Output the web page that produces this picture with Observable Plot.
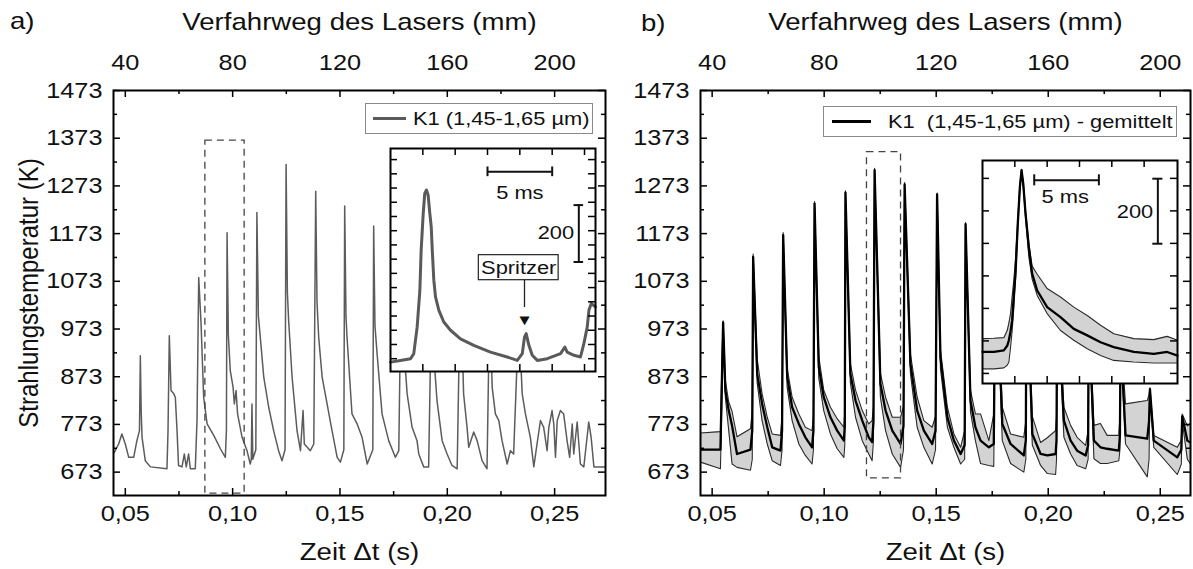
<!DOCTYPE html>
<html><head><meta charset="utf-8">
<script src="https://cdn.jsdelivr.net/npm/d3@7"></script>
<script src="https://cdn.jsdelivr.net/npm/@observablehq/plot@0.6"></script>
<style>
body{margin:0;background:#fff;}
#root{position:relative;width:1193px;height:569px;overflow:hidden;font-family:"Liberation Sans",Arial,Helvetica,sans-serif;color:#111;}
.leg{position:absolute;background:#fff;border:1px solid #8a8a8a;box-sizing:border-box;}
.st{position:absolute;display:inline-block;transform:scaleX(1.15);transform-origin:left center;white-space:pre;line-height:1;}
</style></head><body><div id="root"></div>
<script>
// ---------- tick values & labels ----------
const xMajor = [0.05, 0.10, 0.15, 0.20, 0.25];
const xMinor = [0.075, 0.125, 0.175, 0.225];
const bottomTickLabels = ["0,05", "0,10", "0,15", "0,20", "0,25"];
const topTickLabels = ["40", "80", "120", "160", "200"];
const yMajor = [673, 773, 873, 973, 1073, 1173, 1273, 1373, 1473];
const yMinor = [723, 823, 923, 1023, 1123, 1223, 1323, 1423];
const xTitleBottom = "Zeit \u0394t (s)";
const xTitleTop = "Verfahrweg des Lasers (mm)";
const yTitle = "Strahlungstemperatur (K)";
const legendA = "K1 (1,45-1,65 \u00b5m)";
const legendB = "K1  (1,45-1,65 \u00b5m) - gemittelt";

// ---------- panel a: raw signal (time s, temperature K) ----------
const aTime = [0.0445,0.0453,0.0469,0.0484,0.0500,0.0516,0.0539,0.0554,0.0566,0.0570,0.0574,0.0578,0.0593,0.0617,0.0694,0.0699,0.0705,0.0713,0.0725,0.0733,0.0741,0.0748,0.0764,0.0775,0.0784,0.0795,0.0803,0.0826,0.0834,0.0842,0.0853,0.0865,0.0881,0.0912,0.0943,0.0966,0.0971,0.0974,0.0980,0.0989,0.1002,0.1008,0.1016,0.1023,0.1044,0.1067,0.1082,0.1087,0.1090,0.1094,0.1108,0.1113,0.1120,0.1129,0.1145,0.1168,0.1191,0.1214,0.1230,0.1244,0.1249,0.1255,0.1261,0.1277,0.1300,0.1316,0.1328,0.1334,0.1362,0.1378,0.1387,0.1393,0.1401,0.1417,0.1440,0.1463,0.1487,0.1502,0.1518,0.1522,0.1528,0.1533,0.1556,0.1580,0.1603,0.1627,0.1653,0.1657,0.1663,0.1673,0.1696,0.1727,0.1758,0.1774,0.1786,0.1795,0.1813,0.1836,0.1859,0.1867,0.1890,0.1913,0.1929,0.1940,0.1952,0.1976,0.1999,0.2022,0.2046,0.2061,0.2076,0.2092,0.2100,0.2123,0.2139,0.2162,0.2185,0.2198,0.2209,0.2224,0.2240,0.2255,0.2279,0.2294,0.2309,0.2333,0.2349,0.2364,0.2387,0.2403,0.2418,0.2434,0.2449,0.2465,0.2473,0.2488,0.2496,0.2504,0.2512,0.2527,0.2542,0.2558,0.2570,0.2582,0.2589,0.2605,0.2620,0.2636,0.2659,0.2670,0.2683,0.2699,0.2733];
const aTemp = [712,718,732,753,732,704,704,739,760,917,800,746,697,684,680,760,959,844,838,830,760,687,684,711,684,711,680,680,781,1081,983,830,774,750,722,704,760,1175,960,886,851,816,844,795,746,718,690,700,816,700,720,1217,1000,955,872,809,760,718,697,720,1318,1050,990,872,760,718,802,732,718,732,1262,1030,955,872,816,760,704,694,720,1231,1000,955,795,774,746,690,720,1189,980,921,795,739,704,718,1120,950,837,767,739,711,684,684,1100,900,823,739,711,687,680,1080,837,767,725,757,739,697,680,1050,851,795,781,739,690,718,711,1000,837,795,746,684,732,781,767,718,767,802,774,704,781,802,795,739,704,774,711,778,690,684,778,746,684,684,684];
const zoomBoxA = {t1: 0.0873, t2: 0.1056, T1: 628, T2: 1368};

// ---------- panel b: averaged signal with band ----------
const bTime = [0.0448,0.0537,0.0545,0.0549,0.0559,0.0574,0.0589,0.0611,0.0671,0.0679,0.0683,0.0701,0.0723,0.0746,0.0768,0.0805,0.0812,0.0817,0.0835,0.0857,0.0887,0.0916,0.0946,0.0952,0.0957,0.0976,0.0998,0.1028,0.1058,0.1088,0.1092,0.1095,0.1117,0.1140,0.1170,0.1199,0.1214,0.1220,0.1225,0.1251,0.1274,0.1304,0.1341,0.1354,0.1359,0.1385,0.1415,0.1445,0.1482,0.1497,0.1504,0.1519,0.1550,0.1579,0.1609,0.1627,0.1631,0.1653,0.1675,0.1698,0.1735,0.1757,0.1765,0.1795,0.1832,0.1891,0.1900,0.1903,0.1929,0.1966,0.1996,0.2033,0.2037,0.2040,0.2070,0.2100,0.2129,0.2167,0.2178,0.2181,0.2204,0.2233,0.2263,0.2315,0.2320,0.2323,0.2345,0.2442,0.2450,0.2454,0.2471,0.2576,0.2594,0.2598,0.2621,0.2635];
const bLow = [694,680,850,980,830,760,690,683,677,700,1115,860,781,732,697,687,720,1160,850,781,732,708,690,720,1228,870,802,753,722,704,730,1250,860,788,739,711,697,740,1298,830,760,711,683,720,1268,880,767,725,690,720,1248,890,767,725,690,700,1186,800,739,691,687,685,1140,739,691,673,700,1100,730,687,670,668,700,1050,746,711,687,680,700,1000,701,691,691,697,720,950,732,663,700,840,725,668,690,780,700,690];
const bMean = [720,720,900,987,844,802,770,711,720,760,1124,879,816,767,725,718,760,1170,872,809,774,746,725,760,1236,893,830,788,760,739,770,1259,879,823,781,746,736,780,1306,858,802,760,732,770,1276,900,802,760,732,760,1255,913,788,739,711,730,1193,823,767,739,725,732,1150,774,732,708,740,1110,753,711,708,711,740,1060,781,739,718,708,730,1010,739,725,722,718,750,960,750,743,780,847,739,704,720,790,739,735];
const bHigh = [755,758,930,990,865,820,800,747,764,800,1130,910,837,788,753,750,790,1175,890,830,795,767,760,790,1240,915,845,809,785,767,800,1263,900,845,802,774,781,810,1310,880,830,788,788,810,1280,920,830,781,767,790,1258,930,809,753,725,760,1196,845,795,795,739,795,1155,809,753,746,780,1115,790,735,745,760,790,1065,809,771,746,729,760,1015,771,775,750,750,790,965,816,823,835,850,750,725,740,795,770,775];
const zoomBoxB = {t1: 0.1191, t2: 0.1343, T1: 660, T2: 1344};

// ---------- inset a (ms, K) ----------
const insetATime = [0,0.77,1.55,1.80,2.06,2.27,2.37,2.53,2.65,2.78,2.91,3.04,3.15,3.23,3.35,3.48,3.74,4.12,4.64,5.41,6.44,7.73,9.02,9.80,10.19,10.36,10.49,10.70,10.96,11.35,12.12,13.15,13.48,13.66,14.18,14.69,14.95,15.21,15.34,15.52,15.85];
const insetATemp = [688,694,700,718,811,940,1081,1211,1281,1293,1275,1211,1163,1081,976,917,870,829,800,770,747,723,706,694,718,776,788,747,712,694,700,718,741,723,712,706,753,811,870,894,882];
const insetAXTicks = [2.5, 5, 7.5, 10, 12.5, 15];
const insetAYTicks = [700,750,800,850,900,950,1000,1050,1100,1150,1200,1250,1300,1350,1400];
const barAms = {t1: 7.5, t2: 12.5, T: 1357, cap: 17, label: "5 ms", lt: 10, lT: 1282};
const barAK = {t: 14.56, T1: 1040, T2: 1240, cap: 0.37, label: "200", lt: 14.2, lT: 1141};
const spritzer = {t1: 6.83, t2: 13.0, T1: 976, T2: 1064, label: "Spritzer", lt: 9.92, lT: 1020, at: 10.36, aT2: 880, tipT: 829};

// ---------- inset b (ms, K) ----------
const insetBTime = [0,0.88,1.65,1.91,2.04,2.17,2.29,2.42,2.55,2.73,2.89,3.02,3.15,3.33,3.58,3.84,4.23,5.0,6.03,7.06,8.10,9.13,10.15,11.70,13.25,14.28,15.08];
const insetBLow = [714,714,717,725,735,781,830,900,986,1150,1265,1320,1275,1180,1060,990,940,884,832,802,776,755,740,735,732,732,732];
const insetBMean = [766,766,771,785,802,830,863,940,1007,1161,1273,1325,1284,1191,1089,1007,955,904,873,837,817,796,781,766,760,766,755];
const insetBHigh = [807,808,810,832,855,884,935,986,1050,1175,1280,1328,1290,1200,1100,1030,1005,961,935,904,878,848,822,807,804,814,802];
const insetBXTicks = [2.5, 5, 7.5, 10, 12.5];
const insetBYTicks = [700, 800, 900, 1000, 1100, 1200, 1300];
const barBms = {t1: 4.0, t2: 9.0, T: 1294, cap: 17, label: "5 ms", lt: 6.4, lT: 1242};
const barBK = {t: 13.56, T1: 1099, T2: 1299, cap: 0.39, label: "200", lt: 13.2, lT: 1198};

// ---------- build ----------
const FONT = '"Liberation Sans", Arial, Helvetica, sans-serif';
const SX = 1.15;
const root = document.getElementById("root");
const aRows = aTime.slice(0, Math.min(aTime.length, aTemp.length)).map((t, i) => ({t, T: aTemp[i]}));
const bRows = bTime.map((t, i) => ({t, lo: bLow[i], m: bMean[i], hi: bHigh[i]}));
const iaRows = insetATime.map((t, i) => ({t, T: insetATemp[i]}));
const ibRows = insetBTime.map((t, i) => ({t, lo: insetBLow[i], m: insetBMean[i], hi: insetBHigh[i]}));

function frameTicks(xMaj, xMin, yMaj, yMin, iw, ih, L, l, sw) {
  const st = {stroke: "#000", strokeWidth: sw};
  const m = [];
  if (xMaj.length) m.push(Plot.ruleX(xMaj, {...st, insetTop: ih - L}), Plot.ruleX(xMaj, {...st, insetBottom: ih - L}));
  if (xMin.length) m.push(Plot.ruleX(xMin, {...st, insetTop: ih - l}), Plot.ruleX(xMin, {...st, insetBottom: ih - l}));
  if (yMaj.length) m.push(Plot.ruleY(yMaj, {...st, insetRight: iw - L}), Plot.ruleY(yMaj, {...st, insetLeft: iw - L}));
  if (yMin.length) m.push(Plot.ruleY(yMin, {...st, insetRight: iw - l}), Plot.ruleY(yMin, {...st, insetLeft: iw - l}));
  return m;
}
function axesAndTitles() {
  return [
    Plot.axisX({anchor: "bottom", ticks: xMajor, tickSize: 0, tickPadding: 10, fontSize: 22, tickFormat: d => bottomTickLabels[xMajor.indexOf(d)], label: null}),
    Plot.axisX({anchor: "top", ticks: xMajor, tickSize: 0, tickPadding: 21, fontSize: 22, tickFormat: d => topTickLabels[xMajor.indexOf(d)], label: null}),
    Plot.axisY({anchor: "left", ticks: yMajor, tickSize: 0, tickPadding: 11, fontSize: 22, tickFormat: d => `${d}`, label: null}),
    Plot.text([xTitleBottom], {frameAnchor: "bottom", dy: 64, fontSize: 24, text: d => d}),
    Plot.text([xTitleTop], {frameAnchor: "top", dy: -78, fontSize: 24, text: d => d})
  ];
}
function place(svg, left, top) {
  svg.style.position = "absolute";
  svg.style.left = left + "px";
  svg.style.top = top + "px";
  root.appendChild(svg);
  stretchTexts(svg);
}
function stretchTexts(svg) {
  const ns = "http://www.w3.org/2000/svg";
  svg.querySelectorAll("text").forEach(t => {
    const a = getComputedStyle(t).textAnchor;
    const g = document.createElementNS(ns, "g");
    t.parentNode.insertBefore(g, t);
    g.appendChild(t);
    const b = g.getBBox();
    const rotated = (t.getAttribute("transform") || "").includes("rotate");
    const cx = rotated || a === "middle" ? b.x + b.width / 2 : a === "end" ? b.x + b.width : b.x;
    g.setAttribute("transform", `translate(${cx},0) scale(${SX},1) translate(${-cx},0)`);
  });
}
const baseStyle = {fontFamily: FONT, fontSize: "22px", color: "#111", background: "transparent", overflow: "visible"};

// panel a
const svgA = Plot.plot({
  width: 610, height: 569, marginLeft: 113, marginRight: 5, marginTop: 90, marginBottom: 74,
  x: {domain: [0.0445, 0.2737]}, y: {domain: [624, 1473]},
  style: baseStyle,
  marks: [
    Plot.line(aRows, {x: "t", y: "T", stroke: "#5c5c5c", strokeWidth: 1.5, clip: true}),
    Plot.rect([zoomBoxA], {x1: "t1", x2: "t2", y1: "T1", y2: "T2", fill: "none", stroke: "#444", strokeWidth: 1.3, strokeDasharray: "7,5"}),
    ...frameTicks(xMajor, xMinor, yMajor, yMinor, 492, 405, 7, 4, 1.5),
    Plot.frame({stroke: "#000", strokeWidth: 2}),
    ...axesAndTitles(),
    Plot.text([yTitle], {frameAnchor: "left", dx: -84, rotate: -90, textAnchor: "middle", fontSize: 24, text: d => d})
  ]
});
place(svgA, 0, 0);

// panel b
const svgB = Plot.plot({
  width: 593, height: 569, marginLeft: 100, marginRight: 3, marginTop: 90, marginBottom: 74,
  x: {domain: [0.0448, 0.2635]}, y: {domain: [624, 1473]},
  style: baseStyle,
  marks: [
    Plot.areaY(bRows, {x: "t", y1: "lo", y2: "hi", fill: "#d3d3d3", clip: true}),
    Plot.line(bRows, {x: "t", y: "lo", stroke: "#2a2a2a", strokeWidth: 1.1, clip: true}),
    Plot.line(bRows, {x: "t", y: "hi", stroke: "#2a2a2a", strokeWidth: 1.1, clip: true}),
    Plot.line(bRows, {x: "t", y: "m", stroke: "#000", strokeWidth: 2.3, clip: true}),
    Plot.rect([zoomBoxB], {x1: "t1", x2: "t2", y1: "T1", y2: "T2", fill: "none", stroke: "#444", strokeWidth: 1.3, strokeDasharray: "7,5"}),
    ...frameTicks(xMajor, xMinor, yMajor, yMinor, 490, 405, 7, 4, 1.5),
    Plot.frame({stroke: "#000", strokeWidth: 2}),
    ...axesAndTitles()
  ]
});
place(svgB, 600, 0);

// inset a
const svgIA = Plot.plot({
  width: 207, height: 225, margin: 1,
  x: {domain: [0, 15.85], axis: null}, y: {domain: [655, 1439], axis: null},
  style: {...baseStyle, background: "#fff", fontSize: "19px"},
  marks: [
    Plot.line(iaRows, {x: "t", y: "T", stroke: "#5a5a5a", strokeWidth: 3}),
    ...frameTicks(insetAXTicks, [], insetAYTicks, [], 205, 223, 7, 0, 1.5),
    Plot.frame({stroke: "#000", strokeWidth: 2}),
    Plot.ruleY([barAms], {y: "T", x1: "t1", x2: "t2", stroke: "#111", strokeWidth: 2}),
    Plot.ruleX([barAms.t1, barAms.t2], {y1: barAms.T - barAms.cap, y2: barAms.T + barAms.cap, stroke: "#111", strokeWidth: 2}),
    Plot.text([barAms], {x: "lt", y: "lT", text: "label", fontSize: 19}),
    Plot.ruleX([barAK], {x: "t", y1: "T1", y2: "T2", stroke: "#111", strokeWidth: 2}),
    Plot.ruleY([barAK.T1, barAK.T2], {x1: barAK.t - barAK.cap, x2: barAK.t + barAK.cap, stroke: "#111", strokeWidth: 2}),
    Plot.text([barAK], {x: "lt", y: "lT", text: "label", textAnchor: "end", fontSize: 19}),
    Plot.rect([spritzer], {x1: "t1", x2: "t2", y1: "T1", y2: "T2", fill: "#fff", stroke: "#222", strokeWidth: 1.2}),
    Plot.text([spritzer], {x: "lt", y: "lT", text: "label", fontSize: 19}),
    Plot.ruleX([spritzer], {x: "at", y1: "T1", y2: "aT2", stroke: "#222", strokeWidth: 1.3}),
    Plot.text([spritzer], {x: "at", y: "tipT", text: () => "\u25bc", fontSize: 15, lineAnchor: "bottom", fill: "#111", dy: 3})
  ]
});
place(svgIA, 389, 147);

// inset b
const svgIB = Plot.plot({
  width: 197, height: 225, margin: 1,
  x: {domain: [0, 15.08], axis: null}, y: {domain: [669, 1355], axis: null},
  style: {...baseStyle, background: "#fff", fontSize: "19px"},
  marks: [
    Plot.areaY(ibRows, {x: "t", y1: "lo", y2: "hi", fill: "#d3d3d3"}),
    Plot.line(ibRows, {x: "t", y: "lo", stroke: "#2a2a2a", strokeWidth: 1.1}),
    Plot.line(ibRows, {x: "t", y: "hi", stroke: "#2a2a2a", strokeWidth: 1.1}),
    Plot.line(ibRows, {x: "t", y: "m", stroke: "#000", strokeWidth: 2.3}),
    ...frameTicks(insetBXTicks, [], insetBYTicks, [], 195, 223, 7, 0, 1.5),
    Plot.frame({stroke: "#000", strokeWidth: 2}),
    Plot.ruleY([barBms], {y: "T", x1: "t1", x2: "t2", stroke: "#111", strokeWidth: 2}),
    Plot.ruleX([barBms.t1, barBms.t2], {y1: barBms.T - barBms.cap, y2: barBms.T + barBms.cap, stroke: "#111", strokeWidth: 2}),
    Plot.text([barBms], {x: "lt", y: "lT", text: "label", fontSize: 19}),
    Plot.ruleX([barBK], {x: "t", y1: "T1", y2: "T2", stroke: "#111", strokeWidth: 2}),
    Plot.ruleY([barBK.T1, barBK.T2], {x1: barBK.t - barBK.cap, x2: barBK.t + barBK.cap, stroke: "#111", strokeWidth: 2}),
    Plot.text([barBK], {x: "lt", y: "lT", text: "label", textAnchor: "end", fontSize: 19})
  ]
});
place(svgIB, 981, 159);

// legends and panel letters (HTML overlays)
function legend(left, top, w, h, sampleLeft, sampleW, color, sw, textLeft, label) {
  const d = document.createElement("div");
  d.className = "leg";
  Object.assign(d.style, {left: left + "px", top: top + "px", width: w + "px", height: h + "px"});
  const s = document.createElement("div");
  Object.assign(s.style, {position: "absolute", left: sampleLeft + "px", top: (h / 2 - 1 - sw / 2) + "px", width: sampleW + "px", height: sw + "px", background: color});
  const t = document.createElement("span");
  t.className = "st";
  Object.assign(t.style, {left: textLeft + "px", top: (h / 2 - 11) + "px", fontSize: "19px"});
  t.textContent = label;
  d.append(s, t);
  root.appendChild(d);
}
legend(365, 103, 228, 31, 7, 33, "#5a5a5a", 3, 47, legendA);
legend(823, 106, 354, 31, 8, 39, "#000", 2.5, 64, legendB);
function letter(txt, left, top) {
  const t = document.createElement("span");
  t.className = "st";
  Object.assign(t.style, {left: left + "px", top: top + "px", fontSize: "24px"});
  t.textContent = txt;
  root.appendChild(t);
}
letter("a)", 10, 9);
letter("b)", 641, 11);
</script></body></html>
